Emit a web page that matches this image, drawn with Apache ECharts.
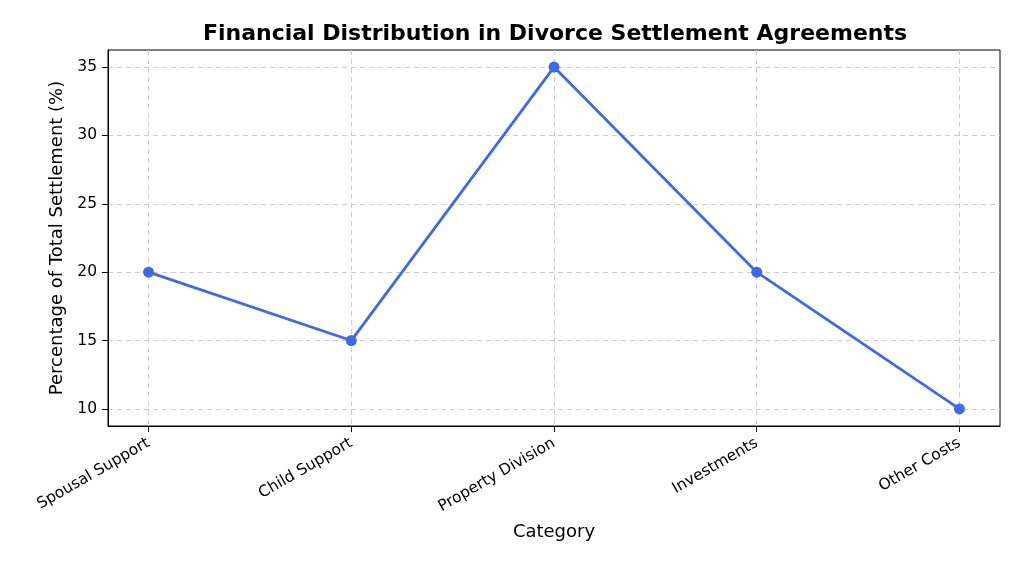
<!DOCTYPE html>
<html>
<head>
<meta charset="utf-8">
<script src="https://cdn.jsdelivr.net/npm/echarts@6/dist/echarts.min.js"></script>
<style>html,body{margin:0;padding:0;background:#fff;}#c{width:1024px;height:569px;}</style>
</head>
<body>
<div id="c"></div>
<script>
const categories = ['Spousal Support', 'Child Support', 'Property Division', 'Investments', 'Other Costs'];
const percentages = [20, 15, 35, 20, 10];
const yTicks = [10, 15, 20, 25, 30, 35];
const xTicks = [0, 1, 2, 3, 4];

const chart = echarts.init(document.getElementById('c'), null, {renderer: 'canvas'});
const font = 'DejaVu Sans';
chart.setOption({
  animation: false,
  backgroundColor: '#fff',
  title: {
    text: 'Financial Distribution in Divorce Settlement Agreements',
    left: 550, top: 18, textAlign: 'center',
    textStyle: {fontFamily: font, fontSize: 22, fontWeight: 'bold', color: '#000'}
  },
  grid: {left: 108, right: 24, top: 50, bottom: 143, show: true, borderColor: '#000', borderWidth: 1},
  xAxis: {
    type: 'value', min: -0.2, max: 4.2,
    name: 'Category', nameLocation: 'middle', nameGap: 97,
    nameTextStyle: {fontFamily: font, fontSize: 18, color: '#000'},
    axisLine: {show: true, onZero: false, lineStyle: {color: '#000', width: 1}},
    axisTick: {show: true, customValues: xTicks, length: 6, lineStyle: {color: '#000'}},
    axisLabel: {customValues: xTicks, rotate: 30, fontFamily: font, fontSize: 15.5, color: '#000', margin: 16,
      formatter: v => categories[Math.round(v)] || ''},
    splitLine: {show: true, lineStyle: {color: '#cccccc', type: [5, 4], width: 1}}
  },
  yAxis: {
    type: 'value', min: 8.75, max: 36.25,
    name: 'Percentage of Total Settlement (%)', nameLocation: 'middle', nameGap: 41,
    nameTextStyle: {fontFamily: font, fontSize: 18, color: '#000'},
    axisLine: {show: true, onZero: false, lineStyle: {color: '#000', width: 1}},
    axisTick: {show: true, customValues: yTicks, length: 6, lineStyle: {color: '#000'}},
    axisLabel: {customValues: yTicks, fontFamily: font, fontSize: 15.5, color: '#000', margin: 11},
    splitLine: {show: true, lineStyle: {color: '#cccccc', type: [5, 4], width: 1}}
  },
  series: [{
    type: 'line',
    data: percentages.map((v, i) => [i, v]),
    symbol: 'circle', symbolSize: 11,
    lineStyle: {color: '#4169E1', width: 2.8},
    itemStyle: {color: '#4169E1'}
  }]
});
</script>
</body>
</html>
